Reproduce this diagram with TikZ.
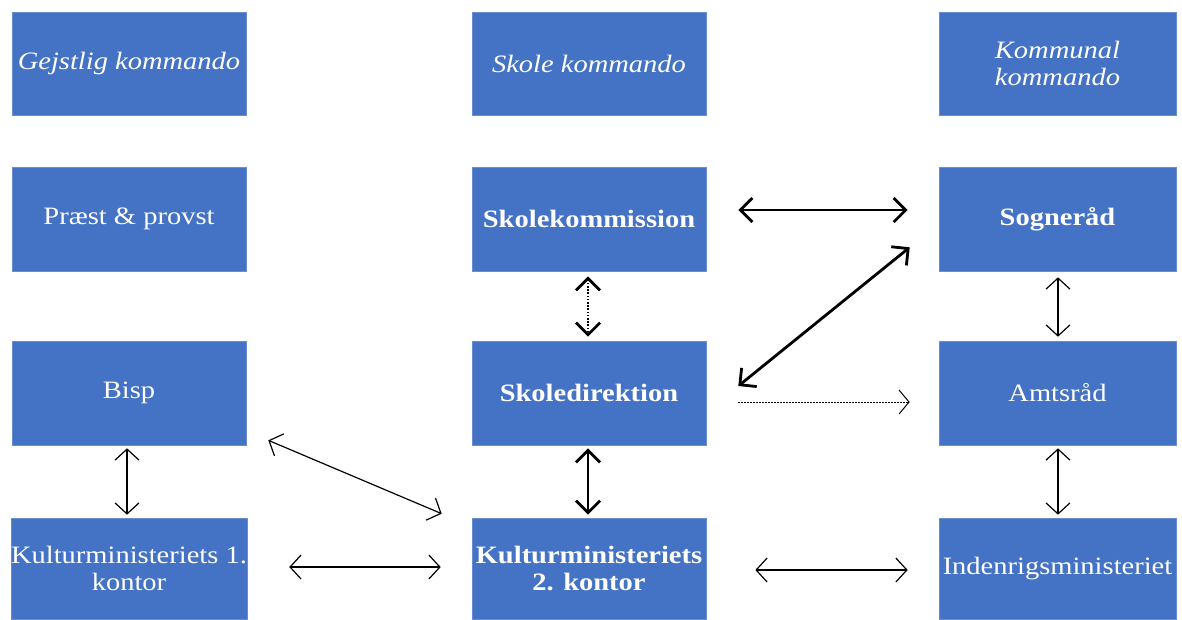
\documentclass[tikz,border=0pt]{standalone}
\usepackage{fontspec}
\setmainfont{Liberation Serif}[FakeStretch=1.14]
\usetikzlibrary{arrows.meta}
\definecolor{boxblue}{HTML}{4472C4}
\begin{document}
\begin{tikzpicture}[x=1pt,y=-1pt,
  box/.style={draw=boxblue!80!white,line width=0.6pt,fill=boxblue,text=white,minimum width=234pt,minimum height=104pt,inner sep=0pt,align=center,font=\fontsize{25}{27.5}\selectfont},
  thin/.style={line width=1.2pt,{Straight Barb[length=11pt,width=24pt,line width=1.2pt]}-{Straight Barb[length=11pt,width=24pt,line width=1.2pt]}},
  thk/.style={line width=2.8pt,{Straight Barb[length=12pt,width=24pt,line width=2.8pt]}-{Straight Barb[length=12pt,width=24pt,line width=2.8pt]}},
  dotthk/.style={thk,dash pattern=on 1.6pt off 1.6pt},
  dotthin/.style={line width=1pt,dash pattern=on 1.5pt off 1.5pt,-{Straight Barb[length=10pt,width=24pt,line width=1pt]}}
]
\useasboundingbox (0,0) rectangle (1182,619);
% row 1
\node[box,minimum height=103pt] (gk) at (129,63.5) {\itshape Gejstlig kommando};
\node[box,minimum height=103pt] (sk) at (589,63.5) {\itshape Skole kommando};
\node[box,minimum height=103pt,minimum width=237pt] (kk) at (1057.5,63.5) {\itshape Kommunal\\\itshape kommando};
% row 2
\node[box] (pp) at (129,219) {Præst \& provst};
\node[box] (skk) at (589,219) {\bfseries Skolekommission};
\node[box,minimum width=237pt] (sog) at (1057.5,219) {\bfseries Sogneråd};
% row 3
\node[box] (bisp) at (129,393) {Bisp};
\node[box] (skd) at (589,393) {\bfseries Skoledirektion};
\node[box,minimum width=237pt] (amt) at (1057.5,393) {Amtsråd};
% row 4
\node[box,minimum height=101pt] (k1) at (129,568.5) {Kulturministeriets 1.\\kontor};
\node[box,minimum height=101pt] (k2) at (589,568.5) {\bfseries Kulturministeriets\\\bfseries 2. kontor};
\node[box,minimum width=237pt,minimum height=101pt] (ind) at (1057.5,568.5) {Indenrigsministeriet};
% connectors
\draw[thk] ([shift={(32,-9)}]skk.east) -- ([shift={(-31,-9)}]sog.west);
\draw[dotthk] ([shift={(-1,5)}]skk.south) -- ([shift={(-1,-4)}]skd.north);
\draw[thk] ([shift={(32,-7)}]skd.east) -- ([shift={(-29,-24)}]sog.south west);
\draw[dotthin] ([shift={(32,9)}]skd.east) -- ([shift={(-29,9)}]amt.west);
\draw[thin] ([shift={(0.5,6)}]sog.south) -- ([shift={(0.5,-4)}]amt.north);
\draw[thin] ([shift={(0.5,3)}]amt.south) -- ([shift={(0.5,-3)}]ind.north);
\draw[thk] ([shift={(-1,3)}]skd.south) -- ([shift={(-1,-3)}]k2.north);
\draw[thin] ([shift={(-2,3)}]bisp.south) -- ([shift={(-2,-3)}]k1.north);
\draw[thin] ([shift={(22,-5)}]bisp.south east) -- ([shift={(-30,-4)}]k2.north west);
\draw[thin] ([shift={(42,-1.5)}]k1.east) -- ([shift={(-31,-1.5)}]k2.west);
\draw[thin] ([shift={(49,1.5)}]k2.east) -- ([shift={(-31,1.5)}]ind.west);
\end{tikzpicture}
\end{document}
